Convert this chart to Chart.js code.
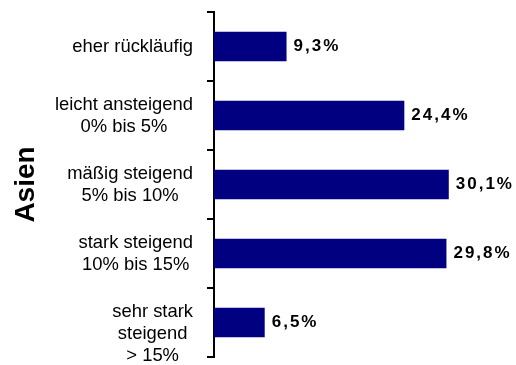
<!DOCTYPE html>
<html lang="de">
<head>
<meta charset="utf-8">
<title>Asien</title>
<script src="https://cdn.jsdelivr.net/npm/chart.js@4/dist/chart.umd.min.js"></script>
<style>
    html, body { margin: 0; padding: 0; background: #fff; }
    #wrap { width: 516px; height: 365px; }
</style>
</head>
<body>
<div id="wrap"><canvas id="graficoAsien"></canvas></div>
<script>
// Kategorien (mehrzeilig), die letzte bekommt eine leere erste Zeile
const kategorien = [
    ["eher rückläufig"],
    ["leicht ansteigend", "0% bis 5%"],
    ["mäßig steigend", "5% bis 10%"],
    ["stark steigend", "10% bis 15%"],
    ["", "sehr stark", "steigend", "> 15%"]
];
const anteile = [9.3, 24.4, 30.1, 29.8, 6.5];
const regionTitel = "Asien";

const FONT = '"Liberation Sans", Arial, Helvetica, sans-serif';
const achseX = 214;

// Beschriftung der Kategorien: Zeilen zentriert, Block rechtsbündig an der Achse
const kategorieLabels = {
    id: 'kategorieLabels',
    afterDraw(chart) {
        const ctx = chart.ctx;
        const yScale = chart.scales.y;
        const rechts = chart.chartArea.left - 21;
        const zeilenHoehe = 22;
        ctx.save();
        ctx.font = '18.4px ' + FONT;
        ctx.fillStyle = '#000';
        ctx.textAlign = 'center';
        ctx.textBaseline = 'middle';
        kategorien.forEach((zeilen, i) => {
            const breite = Math.max(...zeilen.map(z => ctx.measureText(z).width));
            const mitteX = rechts - breite / 2;
            const mitteY = yScale.getPixelForValue(i);
            zeilen.forEach((z, j) => {
                const y = mitteY + (j - (zeilen.length - 1) / 2) * zeilenHoehe;
                ctx.fillText(z, mitteX, y);
            });
        });
        ctx.restore();
    }
};

// Prozentwerte rechts neben den Balken
const wertLabels = {
    id: 'wertLabels',
    afterDatasetsDraw(chart) {
        const ctx = chart.ctx;
        const meta = chart.getDatasetMeta(0);
        ctx.save();
        ctx.font = 'bold 17px ' + FONT;
        ctx.fillStyle = '#000';
        ctx.textAlign = 'left';
        ctx.textBaseline = 'middle';
        ctx.letterSpacing = '2px';
        meta.data.forEach((bar, i) => {
            const text = anteile[i].toFixed(1).replace('.', ',') + '%';
            ctx.fillText(text, bar.x + 7, bar.y);
        });
        ctx.restore();
    }
};

const ctx = document.getElementById('graficoAsien').getContext('2d');

new Chart(ctx, {
    type: 'bar',
    data: {
        labels: kategorien,
        datasets: [{
            data: anteile,
            backgroundColor: '#000080',
            borderWidth: 0,
            categoryPercentage: 1,
            barPercentage: 0.43
        }]
    },
    options: {
        indexAxis: 'y',
        responsive: true,
        maintainAspectRatio: false,
        animation: false,
        layout: {
            padding: { top: 12, bottom: 8, left: 0, right: 29 }
        },
        plugins: {
            legend: { display: false },
            tooltip: { enabled: false }
        },
        scales: {
            x: {
                display: false,
                min: 0,
                max: 35
            },
            y: {
                ticks: { display: false },
                grid: {
                    drawOnChartArea: false,
                    drawTicks: true,
                    tickLength: 7,
                    lineWidth: 2,
                    color: '#000'
                },
                border: { display: true, color: '#000', width: 2 },
                title: {
                    display: true,
                    text: regionTitel,
                    color: '#000',
                    font: { family: FONT, size: 28, weight: 'bold' },
                    padding: { top: 9, bottom: 0 }
                },
                afterFit(scale) {
                    scale.width = achseX;
                }
            }
        }
    },
    plugins: [kategorieLabels, wertLabels]
});
</script>
</body>
</html>
